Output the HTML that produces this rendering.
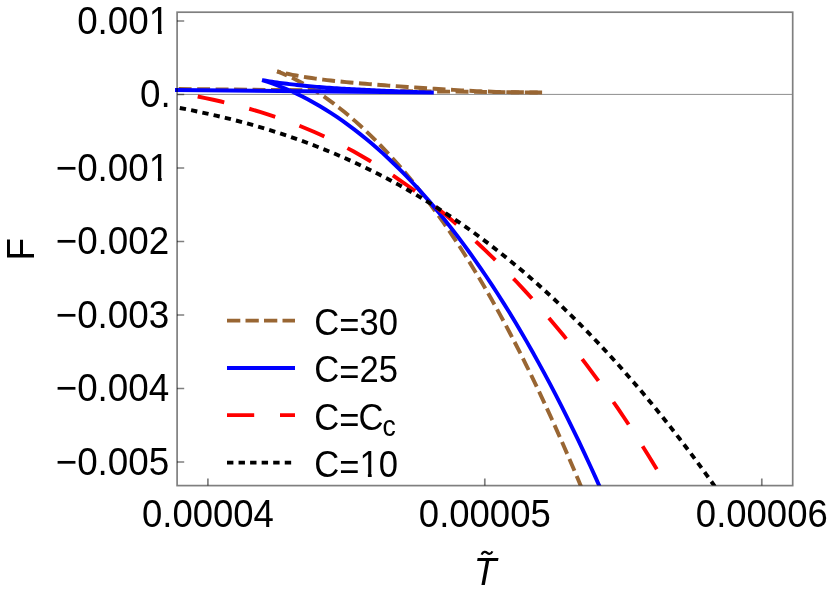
<!DOCTYPE html>
<html><head><meta charset="utf-8"><title>F vs T</title>
<style>
html,body{margin:0;padding:0;background:#fff;}
body{width:830px;height:596px;overflow:hidden;}
svg{display:block;will-change:transform;}
text{font-family:"Liberation Sans",sans-serif;fill:#000;}
</style></head><body>
<svg width="830" height="596" viewBox="0 0 830 596">
<rect x="0" y="0" width="830" height="596" fill="#fff"/>
<!-- zero axis line -->
<line x1="177.9" y1="94.4" x2="791.9" y2="94.4" stroke="#000" stroke-opacity="0.5" stroke-width="0.9"/>
<!-- curves -->
<defs><clipPath id="pc"><rect x="174.9" y="12.2" width="617.8" height="473.4"/></clipPath></defs>
<g fill="none" stroke-width="3.9" stroke-linejoin="miter" stroke-linecap="butt" clip-path="url(#pc)">
<g stroke="#996633" stroke-dasharray="12.9 5.56">
<path d="M178.70,89.00 L542.10,92.50"/>
<path d="M277.10,71.40 L280.94,72.33 L284.78,73.20 L288.62,74.03 L292.46,74.80 L296.30,75.53 L300.14,76.21 L303.98,76.86 L307.82,77.47 L311.67,78.05 L315.51,78.59 L319.35,79.11 L323.19,79.60 L327.03,80.07 L330.87,80.51 L334.71,80.94 L338.55,81.34 L342.39,81.73 L346.23,82.11 L350.07,82.47 L353.91,82.82 L357.75,83.15 L361.59,83.48 L365.43,83.80 L369.27,84.11 L373.11,84.42 L376.96,84.72 L380.80,85.01 L384.64,85.30 L388.48,85.58 L392.32,85.87 L396.16,86.14 L400.00,86.42 L403.84,86.69 L407.68,86.96 L411.52,87.22 L415.36,87.49 L419.20,87.75 L423.04,88.01 L426.88,88.26 L430.72,88.51 L434.56,88.76 L438.40,89.00 L442.24,89.24 L446.09,89.47 L449.93,89.70 L453.77,89.92 L457.61,90.14 L461.45,90.35 L465.29,90.55 L469.13,90.74 L472.97,90.93 L476.81,91.10 L480.65,91.27 L484.49,91.43 L488.33,91.57 L492.17,91.71 L496.01,91.83 L499.85,91.94 L503.69,92.05 L507.53,92.13 L511.38,92.21 L515.22,92.28 L519.06,92.33 L522.90,92.38 L526.74,92.41 L530.58,92.44 L534.42,92.46 L538.26,92.48 L542.10,92.50" stroke-dashoffset="9.51"/>
<path d="M277.10,71.40 L282.28,73.42 L287.47,75.65 L292.65,78.07 L297.84,80.68 L303.02,83.48 L308.21,86.46 L313.39,89.61 L318.58,92.94 L323.76,96.44 L328.95,100.11 L334.13,103.94 L339.32,107.94 L344.50,112.09 L349.69,116.41 L354.87,120.89 L360.06,125.53 L365.24,130.33 L370.43,135.29 L375.61,140.41 L380.79,145.69 L385.98,151.12 L391.16,156.73 L396.35,162.49 L401.53,168.42 L406.72,174.51 L411.90,180.78 L417.09,187.21 L422.27,193.81 L427.46,200.58 L432.64,207.53 L437.83,214.66 L443.01,221.97 L448.20,229.45 L453.38,237.12 L458.57,244.97 L463.75,253.01 L468.94,261.24 L474.12,269.66 L479.31,278.26 L484.49,287.06 L489.67,296.06 L494.86,305.25 L500.04,314.63 L505.23,324.22 L510.41,334.00 L515.60,343.98 L520.78,354.15 L525.97,364.52 L531.15,375.09 L536.34,385.86 L541.52,396.81 L546.71,407.97 L551.89,419.31 L557.08,430.84 L562.26,442.56 L567.45,454.46 L572.63,466.53 L577.82,478.79 L583.00,491.21" stroke-dashoffset="2.27"/>
</g>
<path d="M175.00,90.00 L433.80,92.50 L431.31,92.46 L428.82,92.40 L426.33,92.33 L423.85,92.26 L421.36,92.18 L418.87,92.10 L416.38,92.01 L413.89,91.92 L411.40,91.83 L408.92,91.74 L406.43,91.64 L403.94,91.55 L401.45,91.45 L398.96,91.35 L396.47,91.25 L393.99,91.14 L391.50,91.04 L389.01,90.93 L386.52,90.83 L384.03,90.72 L381.54,90.61 L379.06,90.50 L376.57,90.38 L374.08,90.27 L371.59,90.15 L369.10,90.04 L366.61,89.92 L364.12,89.79 L361.64,89.67 L359.15,89.54 L356.66,89.41 L354.17,89.28 L351.68,89.15 L349.19,89.01 L346.71,88.87 L344.22,88.72 L341.73,88.58 L339.24,88.42 L336.75,88.27 L334.26,88.10 L331.78,87.94 L329.29,87.77 L326.80,87.59 L324.31,87.41 L321.82,87.22 L319.33,87.03 L316.84,86.82 L314.36,86.62 L311.87,86.40 L309.38,86.18 L306.89,85.95 L304.40,85.71 L301.91,85.47 L299.43,85.21 L296.94,84.95 L294.45,84.68 L291.96,84.39 L289.47,84.10 L286.98,83.80 L284.50,83.48 L282.01,83.16 L279.52,82.82 L277.03,82.47 L274.54,82.11 L272.05,81.73 L269.57,81.35 L267.08,80.94 L264.59,80.53 L262.10,80.10 L267.85,81.98 L273.61,84.02 L279.36,86.21 L285.11,88.56 L290.86,91.08 L296.62,93.75 L302.37,96.58 L308.12,99.57 L313.87,102.73 L319.63,106.04 L325.38,109.52 L331.13,113.16 L336.88,116.97 L342.64,120.94 L348.39,125.07 L354.14,129.37 L359.89,133.84 L365.65,138.48 L371.40,143.29 L377.15,148.26 L382.90,153.41 L388.66,158.73 L394.41,164.22 L400.16,169.89 L405.91,175.73 L411.67,181.75 L417.42,187.95 L423.17,194.33 L428.92,200.88 L434.68,207.62 L440.43,214.55 L446.18,221.66 L451.93,228.96 L457.69,236.44 L463.44,244.12 L469.19,251.98 L474.94,260.04 L480.70,268.30 L486.45,276.76 L492.20,285.41 L497.95,294.27 L503.71,303.33 L509.46,312.59 L515.21,322.06 L520.96,331.75 L526.72,341.64 L532.47,351.76 L538.22,362.08 L543.97,372.63 L549.73,383.41 L555.48,394.40 L561.23,405.63 L566.98,417.08 L572.74,428.77 L578.49,440.70 L584.24,452.87 L589.99,465.28 L595.75,477.93 L601.50,490.84" stroke="#0000ff"/>
<path d="M197.70,96.50 L205.48,98.10 L213.26,99.77 L221.04,101.52 L228.83,103.37 L236.61,105.32 L244.39,107.38 L252.17,109.57 L259.95,111.87 L267.73,114.32 L275.51,116.90 L283.29,119.62 L291.08,122.49 L298.86,125.52 L306.64,128.71 L314.42,132.06 L322.20,135.57 L329.98,139.25 L337.76,143.10 L345.55,147.13 L353.33,151.33 L361.11,155.71 L368.89,160.26 L376.67,165.00 L384.45,169.91 L392.23,175.01 L400.02,180.29 L407.80,185.75 L415.58,191.39 L423.36,197.23 L431.14,203.24 L438.92,209.45 L446.70,215.84 L454.48,222.42 L462.27,229.19 L470.05,236.15 L477.83,243.30 L485.61,250.65 L493.39,258.19 L501.17,265.93 L508.95,273.88 L516.74,282.02 L524.52,290.37 L532.30,298.93 L540.08,307.71 L547.86,316.70 L555.64,325.92 L563.42,335.36 L571.21,345.04 L578.99,354.97 L586.77,365.13 L594.55,375.56 L602.33,386.25 L610.11,397.21 L617.89,408.45 L625.67,419.99 L633.46,431.83 L641.24,443.99 L649.02,456.47 L656.80,469.30" stroke="#ff0000" stroke-dasharray="27.2 25.8"/>
<path d="M179.80,108.00 L188.89,109.76 L197.98,111.62 L207.06,113.58 L216.15,115.63 L225.24,117.80 L234.33,120.08 L243.42,122.47 L252.51,124.98 L261.59,127.61 L270.68,130.37 L279.77,133.27 L288.86,136.29 L297.95,139.46 L307.03,142.76 L316.12,146.22 L325.21,149.82 L334.30,153.57 L343.39,157.48 L352.47,161.55 L361.56,165.78 L370.65,170.18 L379.74,174.75 L388.83,179.48 L397.92,184.40 L407.00,189.49 L416.09,194.76 L425.18,200.22 L434.27,205.87 L443.36,211.70 L452.44,217.73 L461.53,223.96 L470.62,230.38 L479.71,237.01 L488.80,243.84 L497.88,250.87 L506.97,258.12 L516.06,265.58 L525.15,273.25 L534.24,281.14 L543.33,289.24 L552.41,297.57 L561.50,306.13 L570.59,314.91 L579.68,323.92 L588.77,333.16 L597.85,342.63 L606.94,352.34 L616.03,362.29 L625.12,372.48 L634.21,382.91 L643.29,393.59 L652.38,404.51 L661.47,415.68 L670.56,427.10 L679.65,438.77 L688.74,450.70 L697.82,462.89 L706.91,475.33 L716.00,488.04" stroke="#000" stroke-dasharray="6.3 5.21"/>
</g>
<!-- frame -->
<g stroke="#000" stroke-opacity="0.5" stroke-width="1.7" fill="none">
<rect x="177.1" y="12.2" width="615.6" height="473.4"/>
<!-- y ticks -->
<path d="M177,21H184.2 M177,94.5H184.2 M177,168H184.2 M177,241.5H184.2 M177,315H184.2 M177,388.5H184.2 M177,462H184.2"/>
<!-- x ticks -->
<path d="M207.9,485.6V478.4 M484.8,485.6V478.4 M761.8,485.6V478.4"/>
</g>
<text transform="translate(169.2,33.7) scale(1,1.05)" font-size="36.8" text-anchor="end">0.001</text>
<text transform="translate(170.79999999999998,107.2) scale(1,1.05)" font-size="36.8" text-anchor="end">0.</text>
<text transform="translate(169.2,180.7) scale(1,1.05)" font-size="36.8" text-anchor="end">−0.001</text>
<text transform="translate(169.2,254.2) scale(1,1.05)" font-size="36.8" text-anchor="end">−0.002</text>
<text transform="translate(169.2,327.7) scale(1,1.05)" font-size="36.8" text-anchor="end">−0.003</text>
<text transform="translate(169.2,401.2) scale(1,1.05)" font-size="36.8" text-anchor="end">−0.004</text>
<text transform="translate(169.2,474.7) scale(1,1.05)" font-size="36.8" text-anchor="end">−0.005</text>
<text transform="translate(207.9,527) scale(1,1.05)" font-size="36.5" text-anchor="middle">0.00004</text>
<text transform="translate(484.8,527) scale(1,1.05)" font-size="36.5" text-anchor="middle">0.00005</text>
<text transform="translate(761.8,527) scale(1,1.05)" font-size="36.5" text-anchor="middle">0.00006</text>
<text font-size="37" text-anchor="middle" transform="translate(33.5,249.2) rotate(-90) scale(1,1.05)">F</text>
<text transform="translate(485.1,584.8) scale(1,1.05)" font-size="37" text-anchor="middle" font-style="italic">T</text>
<path d="M150.3,30.5H157.9V34.6H150.3Z M161.7,30.5H168.6V34.6H161.7Z" fill="#fff"/>
<path d="M150.3,177.5H157.9V181.6H150.3Z M161.7,177.5H168.6V181.6H161.7Z" fill="#fff"/>
<path d="M481.6,554.6 C483,551.2 485.6,551.4 487.2,552.8 C488.8,554.2 491,554.4 492.4,551.4" fill="none" stroke="#000" stroke-width="2.2"/>
<!-- legend -->
<g fill="none" stroke-width="3.9">
<line x1="227" y1="320.6" x2="295" y2="320.6" stroke="#996633" stroke-dasharray="13.3 5.2"/>
<line x1="227" y1="368" x2="295" y2="368" stroke="#0000ff"/>
<line x1="227" y1="415.1" x2="295" y2="415.1" stroke="#ff0000" stroke-dasharray="27.2 25.8"/>
<line x1="227" y1="462.6" x2="295" y2="462.6" stroke="#000" stroke-dasharray="6.4 5.15"/>
</g>
<text transform="translate(314.2,334.8) scale(1,1.09)" font-size="34.6" text-anchor="start">C<tspan dy="2.1">=</tspan><tspan dy="-2.1">30</tspan></text>
<text transform="translate(314.2,382.1) scale(1,1.09)" font-size="34.6" text-anchor="start">C<tspan dy="2.1">=</tspan><tspan dy="-2.1">25</tspan></text>
<text transform="translate(314.2,429.9) scale(1,1.09)" font-size="34.6" text-anchor="start">C<tspan dy="2.1">=</tspan><tspan dy="-2.1" dx="-1">C</tspan><tspan font-size="26.5" dy="5.6" dx="-1">c</tspan></text>
<text transform="translate(314.2,476.6) scale(1,1.09)" font-size="34.6" text-anchor="start">C<tspan dy="2.1">=</tspan><tspan dy="-2.1">10</tspan></text>
<path d="M361.3,473.3H367.9V477.4H361.3Z M371.7,473.3H377.8V477.4H371.7Z" fill="#fff"/>
</svg>
</body></html>
